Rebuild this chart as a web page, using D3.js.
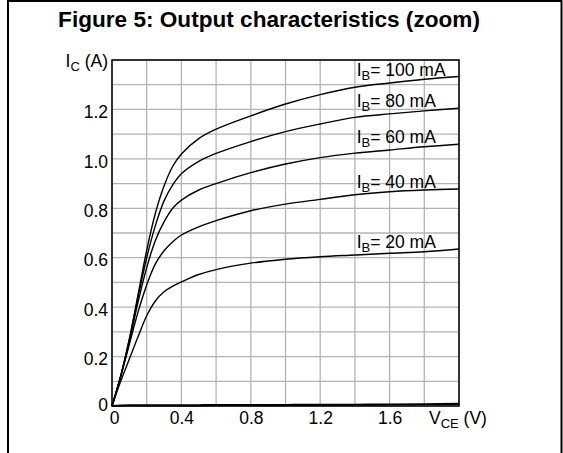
<!DOCTYPE html>
<html>
<head>
<meta charset="utf-8">
<title>Figure 5: Output characteristics (zoom)</title>
<script src="https://cdn.jsdelivr.net/npm/d3@7/dist/d3.min.js"></script>
<style>
  body { margin: 0; background: #fff; }
  text { font-family: Arial, "Liberation Sans", sans-serif; fill: #000; }
  .grid line { stroke: #b4b4b4; stroke-width: 1.3; }
  .curve { fill: none; stroke: #000; stroke-width: 1.4; }
</style>
</head>
<body>
<svg id="chart" width="563" height="453"></svg>
<script>
  // V_CE sample points (V), shared by every curve
  var vce = [0, 0.05, 0.1, 0.15, 0.2, 0.25, 0.3, 0.35, 0.4, 0.5, 0.6, 0.8, 1.0, 1.2, 1.4, 1.6, 1.8, 2.0];

  // I_C (A), one array per base current
  var ib100 = [0, 0.12, 0.27, 0.45, 0.63, 0.78, 0.89, 0.97, 1.02, 1.082, 1.12, 1.174, 1.222, 1.26, 1.29, 1.307, 1.322, 1.333];
  var ib80 = [0, 0.12, 0.27, 0.44, 0.6, 0.73, 0.83, 0.895, 0.94, 0.99, 1.022, 1.07, 1.11, 1.141, 1.168, 1.182, 1.194, 1.205];
  var ib60 = [0, 0.12, 0.26, 0.42, 0.56, 0.67, 0.745, 0.8, 0.833, 0.874, 0.9, 0.944, 0.979, 1.005, 1.023, 1.036, 1.049, 1.059];
  var ib40 = [0, 0.12, 0.25, 0.38, 0.49, 0.575, 0.628, 0.665, 0.692, 0.725, 0.75, 0.79, 0.817, 0.836, 0.855, 0.867, 0.874, 0.878];
  var ib20 = [0, 0.1, 0.19, 0.28, 0.365, 0.425, 0.462, 0.485, 0.502, 0.532, 0.552, 0.578, 0.594, 0.604, 0.611, 0.618, 0.624, 0.635];
  var ib0 = [0, 0.002, 0.003, 0.003, 0.003, 0.003, 0.003, 0.003, 0.003, 0.003, 0.004, 0.004, 0.004, 0.005, 0.005, 0.006, 0.007, 0.009];

  var seriesNames = ["100", "80", "60", "40", "20"];
  var seriesValues = [ib100, ib80, ib60, ib40, ib20];

  var xTicks = [0, 0.4, 0.8, 1.2, 1.6];
  var xTickLabels = ["0", "0.4", "0.8", "1.2", "1.6"];
  var yTicks = [0, 0.2, 0.4, 0.6, 0.8, 1.0, 1.2];
  var yTickLabels = ["0", "0.2", "0.4", "0.6", "0.8", "1.0", "1.2"];

  var svg = d3.select("#chart"),
    width = +svg.attr("width"),
    height = +svg.attr("height");

  var margin = { top: 60, right: 104, bottom: 47, left: 112 };

  var x = d3.scaleLinear().domain([0, 2.0]).range([margin.left, width - margin.right]);
  var y = d3.scaleLinear().domain([0, 1.4]).range([height - margin.bottom, margin.top]);

  // outer frame
  svg.append("path")
    .attr("d", "M8," + height + "V1H561.5V" + height)
    .attr("fill", "none")
    .attr("stroke", "#000")
    .attr("stroke-width", 2);

  svg.append("text")
    .attr("x", 269)
    .attr("y", 27)
    .attr("text-anchor", "middle")
    .style("font-size", "22.6px")
    .style("font-weight", "bold")
    .text("Figure 5: Output characteristics (zoom)");

  // grid
  var grid = svg.append("g").attr("class", "grid");
  grid.selectAll(".gx")
    .data(x.ticks(10))
    .enter().append("line")
    .attr("x1", d => x(d)).attr("x2", d => x(d))
    .attr("y1", y(0)).attr("y2", y(1.4));
  grid.selectAll(".gy")
    .data(y.ticks(14))
    .enter().append("line")
    .attr("y1", d => y(d)).attr("y2", d => y(d))
    .attr("x1", x(0)).attr("x2", x(2.0));

  // axes
  var xAxis = svg.append("g")
    .attr("transform", "translate(0," + y(0) + ")")
    .call(d3.axisBottom(x).tickValues(xTicks).tickSize(0).tickPadding(6)
      .tickFormat((d, i) => xTickLabels[i]));
  var yAxis = svg.append("g")
    .attr("transform", "translate(" + x(0) + ",0)")
    .call(d3.axisLeft(y).tickValues(yTicks).tickSize(0).tickPadding(4)
      .tickFormat((d, i) => yTickLabels[i]));
  svg.selectAll(".domain").remove();
  svg.selectAll(".tick text")
    .attr("fill", "#000")
    .style("font-size", "17.5px")
    .style("font-family", "Arial, 'Liberation Sans', sans-serif");
  yAxis.selectAll(".tick text").attr("dy", d => d === 0 ? "0.24em" : "0.47em");
  xAxis.selectAll(".tick text").attr("dx", d => d === 0 ? 2 : 0);

  // plot frame
  svg.append("rect")
    .attr("x", x(0)).attr("y", y(1.4))
    .attr("width", x(2.0) - x(0)).attr("height", y(0) - y(1.4))
    .attr("fill", "none")
    .attr("stroke", "#000")
    .attr("stroke-width", 1.5);

  var line = d3.line()
    .x((d, i) => x(vce[i]))
    .y(d => y(d))
    .curve(d3.curveCatmullRom.alpha(0.5));

  svg.selectAll(".curve")
    .data(seriesValues)
    .enter().append("path")
    .attr("class", "curve")
    .attr("d", line);

  svg.append("path")
    .attr("class", "curve")
    .style("stroke-width", 2.2)
    .attr("d", line(ib0));

  // curve labels
  var labels = svg.selectAll(".lab")
    .data(seriesNames)
    .enter().append("text")
    .attr("x", x(1.41))
    .attr("y", (d, i) => y(seriesValues[i][vce.length - 1]) - 1)
    .style("font-size", "17.5px");
  labels.append("tspan").text("I");
  labels.append("tspan").attr("dy", 4).style("font-size", "13px").text("B");
  labels.append("tspan").attr("dy", -4).text(d => "= " + d + " mA");

  // axis titles
  var yt = svg.append("text")
    .attr("x", x(0) - 4).attr("y", 67)
    .attr("text-anchor", "end")
    .style("font-size", "17.5px");
  yt.append("tspan").text("I");
  yt.append("tspan").attr("dy", 4).style("font-size", "13px").text("C");
  yt.append("tspan").attr("dy", -4).text(" (A)");

  var xt = svg.append("text")
    .attr("x", 429).attr("y", 424)
    .style("font-size", "17.5px");
  xt.append("tspan").text("V");
  xt.append("tspan").attr("dy", 4).style("font-size", "13px").text("CE");
  xt.append("tspan").attr("dy", -4).text(" (V)");
</script>
</body>
</html>
